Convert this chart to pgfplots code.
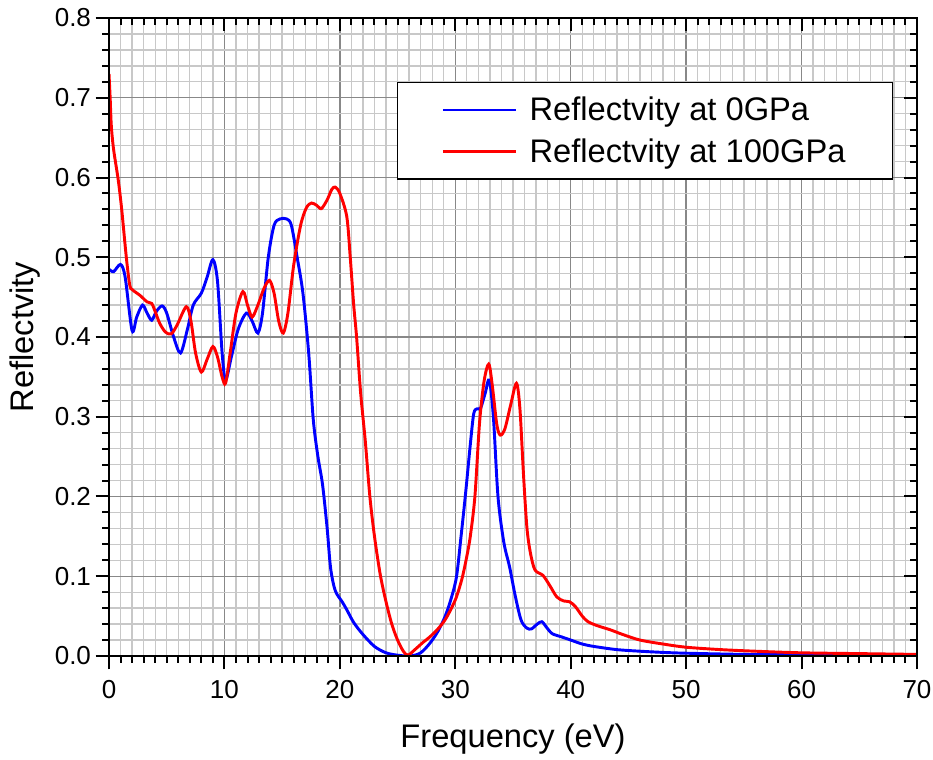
\documentclass[border=0pt]{standalone}
\usepackage{pgfplots}
\pgfplotsset{compat=1.18}
\usepackage{fontspec}
\setmainfont{Liberation Sans}
\definecolor{majgrid}{RGB}{136,136,136}
\definecolor{mingrid}{RGB}{200,200,200}
\begin{document}
\begin{tikzpicture}
\useasboundingbox (-81.75pt,-78pt) rectangle (618pt,492pt);
\begin{axis}[
  scale only axis, width=606pt, height=478.5pt,
  xmin=0, xmax=70, ymin=0, ymax=0.8,
  xtick={0,10,...,70}, ytick={0,0.1,...,0.8},
  minor x tick num=9, minor y tick num=4,
  xtick pos=left, ytick pos=left,
  tick align=outside,
  major tick length=10pt, minor tick length=5pt,
  every tick/.style={black, line width=1.5pt},
  grid=both,
  major grid style={majgrid, line width=1pt},
  minor grid style={mingrid, line width=1pt},
  axis line style={line width=2pt},
  /pgf/number format/assume math mode=true,
  yticklabel style={/pgf/number format/fixed, /pgf/number format/fixed zerofill, /pgf/number format/precision=1},
  ticklabel style={font=\fontsize{19.5}{23}\selectfont},
  xticklabel style={yshift=-5pt},
  xlabel={Frequency (eV)}, ylabel={Reflectvity},
  label style={font=\fontsize{24.5}{29}\selectfont},
  xlabel style={yshift=-12pt},
  ylabel style={yshift=4pt},
  legend style={at={(rel axis cs:0.356,0.900)}, anchor=north west, draw=black, line width=1pt,
    font=\fontsize{24.5}{29}\selectfont, inner xsep=33pt, inner ysep=9pt, row sep=8pt},
  legend cell align=left,
  legend image code/.code={\draw[#1, line width=2.2pt] (0pt,0pt) -- (55pt,0pt); \path (62pt,0pt);},
]
\addplot[blue, line width=2.2pt, smooth, tension=0.5] coordinates {
(0,0.485) (0.4,0.482) (1.0,0.491) (1.4,0.475) (2.0,0.408) (2.4,0.425) (2.9,0.440) (3.3,0.430)
(3.7,0.421) (4.1,0.432) (4.6,0.439) (5.0,0.430) (5.6,0.400) (6.2,0.380) (6.8,0.410) (7.3,0.440)
(8.0,0.455) (8.5,0.475) (9.0,0.497) (9.4,0.470) (9.8,0.380) (10.1,0.346) (10.6,0.375) (11.2,0.410)
(11.9,0.430) (12.4,0.420) (12.9,0.405) (13.3,0.430) (13.8,0.500) (14.3,0.540) (14.8,0.548) (15.4,0.548)
(15.8,0.540) (16.3,0.500) (16.8,0.455) (17.3,0.380) (17.7,0.296) (18.1,0.250) (18.5,0.215) (18.9,0.160)
(19.2,0.110) (19.6,0.082) (20.2,0.068) (20.6,0.058) (21.2,0.042) (22.0,0.027) (23.0,0.012) (24.0,0.004)
(25.0,0.001) (26.1,0.000) (27.0,0.004) (27.8,0.016) (28.5,0.031) (29.1,0.049) (29.6,0.070) (30.1,0.099)
(30.5,0.150) (30.9,0.205) (31.3,0.265) (31.6,0.304) (31.9,0.310) (32.2,0.311) (32.6,0.330) (32.95,0.346)
(33.3,0.300) (33.7,0.200) (34.2,0.143) (34.7,0.112) (35.2,0.075) (35.7,0.045) (36.2,0.035) (36.6,0.034)
(37.1,0.040) (37.5,0.043) (37.9,0.036) (38.4,0.028) (39.2,0.024) (40.0,0.020) (41.0,0.015) (42.0,0.012)
(44,0.008) (46,0.006) (48,0.0045) (50,0.0035) (55,0.002) (60,0.0015) (65,0.001) (70,0.001)
};
\addlegendentry{Reflectvity at 0GPa}
\addplot[red, line width=2.2pt, smooth, tension=0.5] coordinates {
(0.0,0.73) (0.1,0.70) (0.2,0.665) (0.4,0.635) (0.8,0.597) (1.1,0.560) (1.5,0.500) (1.8,0.465)
(2.05,0.459) (2.7,0.452) (3.3,0.444) (3.7,0.442) (4.0,0.432) (4.4,0.417) (4.9,0.406) (5.4,0.404)
(5.9,0.415) (6.7,0.438) (7.1,0.420) (7.5,0.380) (8.0,0.356) (8.5,0.372) (9.0,0.388) (9.4,0.375)
(9.8,0.350) (10.1,0.342) (10.5,0.380) (11.0,0.430) (11.6,0.457) (12.0,0.440) (12.4,0.425) (12.9,0.440)
(13.4,0.460) (13.9,0.471) (14.3,0.455) (14.7,0.420) (15.1,0.405) (15.5,0.430) (16.0,0.490) (16.6,0.540)
(17.1,0.562) (17.55,0.568) (18.0,0.565) (18.4,0.561) (18.9,0.572) (19.3,0.585) (19.6,0.588) (20.0,0.580)
(20.6,0.551) (20.9,0.500) (21.2,0.440) (21.45,0.400) (21.8,0.330) (22.2,0.270) (22.6,0.200) (23.0,0.150)
(23.5,0.102) (24.0,0.068) (24.5,0.040) (25.0,0.020) (25.5,0.006) (25.9,0.001) (26.5,0.008) (27.2,0.017)
(27.8,0.024) (28.5,0.034) (29.1,0.045) (29.6,0.058) (30.1,0.074) (30.6,0.098) (31.0,0.125) (31.3,0.150)
(31.7,0.200) (32.1,0.292) (32.5,0.345) (32.9,0.366) (33.2,0.340) (33.6,0.290) (33.9,0.277) (34.3,0.285)
(34.8,0.315) (35.3,0.342) (35.6,0.310) (35.9,0.230) (36.2,0.162) (36.5,0.130) (36.9,0.108) (37.6,0.101)
(38.2,0.088) (38.8,0.074) (39.4,0.069) (39.9,0.068) (40.4,0.062) (41.0,0.050) (41.5,0.043) (42.3,0.038)
(43.4,0.033) (44.5,0.027) (46,0.020) (48,0.015) (50,0.011) (53,0.008) (56,0.006) (60,0.004)
(65,0.003) (70,0.002)
};
\addlegendentry{Reflectvity at 100GPa}
\end{axis}
\begin{axis}[
  scale only axis, width=606pt, height=478.5pt,
  xmin=0, xmax=70, ymin=0, ymax=0.8,
  xtick={0,10,...,70}, ytick={0,0.1,...,0.8},
  minor x tick num=9, minor y tick num=4,
  xtick pos=right, ytick pos=right,
  tick align=inside,
  major tick length=10pt, minor tick length=5pt,
  every tick/.style={black, line width=1.5pt},
  xticklabels={}, yticklabels={},
  axis line style={line width=2pt},
]
\end{axis}
\end{tikzpicture}
\end{document}
